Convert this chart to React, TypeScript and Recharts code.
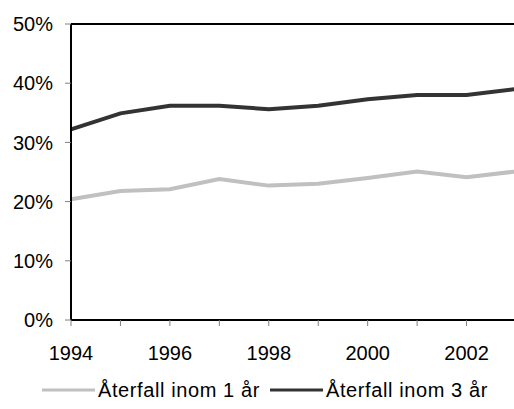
import React from 'react';
import { LineChart, Line, XAxis, YAxis, ReferenceLine, Legend } from 'recharts';

const years = [1994, 1995, 1996, 1997, 1998, 1999, 2000, 2001, 2002, 2003];
const withinOneYear = [20.4, 21.8, 22.1, 23.8, 22.7, 23.0, 24.0, 25.1, 24.1, 25.1];
const withinThreeYears = [32.2, 34.9, 36.2, 36.2, 35.6, 36.2, 37.3, 38.0, 38.0, 39.0];
const yTicks = [0, 10, 20, 30, 40, 50];
const seriesNames = ['Återfall inom 1 år', 'Återfall inom 3 år'];
const seriesColors = ['#c0c0c0', '#333333'];

const data = years.map((y, i) => ({ year: y, one: withinOneYear[i], three: withinThreeYears[i] }));

const FONT = 'Liberation Sans, Arial, sans-serif';

const LegendContent = () => (
  <div style={{ display: 'flex', alignItems: 'center', height: 30, fontFamily: FONT, fontSize: 20, letterSpacing: 0.6, color: '#000', paddingLeft: 42 }}>
    {seriesNames.map((n, i) => (
      <div key={n} style={{ display: 'flex', alignItems: 'center', marginRight: 10 }}>
        <svg width={53} height={10} style={{ marginRight: 3 }}>
          <line x1={0} y1={5} x2={53} y2={5} stroke={seriesColors[i]} strokeWidth={3} />
        </svg>
        <span style={{ whiteSpace: 'nowrap' }}>{n}</span>
      </div>
    ))}
  </div>
);

export default function App() {
  return (
    <div style={{ position: 'absolute', left: 0, top: 0, width: 514, height: 409, overflow: 'hidden', background: '#fff' }}>
      <LineChart width={520} height={409} data={data} margin={{ top: 24, right: 4, left: 0, bottom: 0 }}>
        <XAxis
          dataKey="year"
          type="number"
          domain={[1994, 2003]}
          ticks={years}
          tickFormatter={(v: number) => (v % 2 === 0 ? String(v) : '')}
          interval={0}
          axisLine={{ stroke: '#000', strokeWidth: 2 }}
          tickLine={{ stroke: '#808080' }}
          tickSize={6}
          tickMargin={20}
          height={59}
          tick={{ fill: '#000', fontSize: 20, fontFamily: FONT }}
        />
        <YAxis
          domain={[0, 50]}
          ticks={yTicks}
          tickFormatter={(v: number) => `${v}%`}
          axisLine={{ stroke: '#000', strokeWidth: 2 }}
          tickLine={{ stroke: '#808080' }}
          tickSize={6}
          tickMargin={12}
          width={71}
          tick={{ fill: '#000', fontSize: 20, fontFamily: FONT }}
        />
        <ReferenceLine y={50} stroke="#000" strokeWidth={2} />
        <Line dataKey="one" name={seriesNames[0]} stroke={seriesColors[0]} strokeWidth={4} dot={false} isAnimationActive={false} />
        <Line dataKey="three" name={seriesNames[1]} stroke={seriesColors[1]} strokeWidth={4} dot={false} isAnimationActive={false} />
        <Legend content={<LegendContent />} verticalAlign="bottom" wrapperStyle={{ bottom: 4, left: 0, width: 514, height: 30 }} />
      </LineChart>
    </div>
  );
}
